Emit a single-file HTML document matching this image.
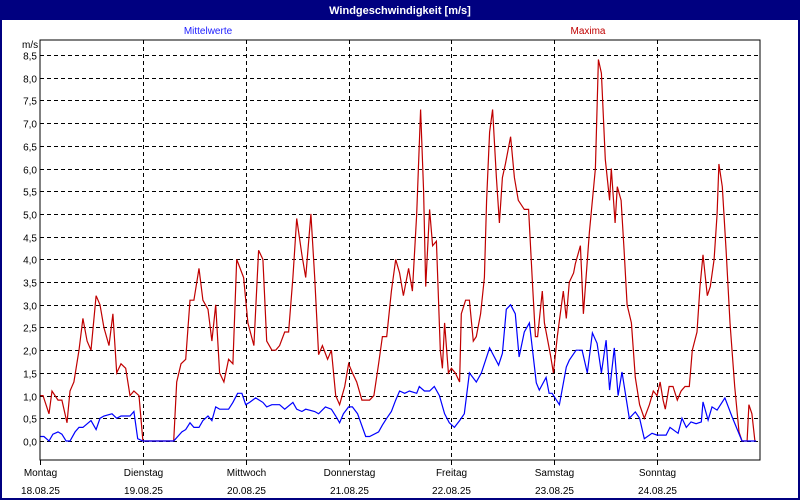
<!DOCTYPE html>
<html><head><meta charset="utf-8">
<style>
body{margin:0;background:#fff;}
svg{display:block;font-family:"Liberation Sans",sans-serif;}
</style></head>
<body>
<svg id="chart" width="800" height="500" xmlns="http://www.w3.org/2000/svg">
<rect x="0" y="0" width="800" height="500" fill="#fff"/>
<rect x="0" y="0" width="800" height="20" fill="#000080"/>
<rect x="1" y="1" width="798" height="498" fill="none" stroke="#000080" stroke-width="2"/>
<text x="400" y="14" fill="#fff" font-size="11" font-weight="bold" text-anchor="middle">Windgeschwindigkeit [m/s]</text>
<text x="208" y="34" fill="#2020ff" font-size="10" text-anchor="middle">Mittelwerte</text>
<text x="588" y="34" fill="#c00000" font-size="10" text-anchor="middle">Maxima</text>
<text x="22" y="48" fill="#000" font-size="10">m/s</text>
<g id="grid"></g>
<g id="series"></g>
<rect x="40" y="40" width="720" height="420" fill="none" stroke="#000" stroke-width="1"/>
<g id="labels"></g>
</svg>
<script>
const dayNames = ["Montag","Dienstag","Mittwoch","Donnerstag","Freitag","Samstag","Sonntag"];
const dayDates = ["18.08.25","19.08.25","20.08.25","21.08.25","22.08.25","23.08.25","24.08.25"];
const yTicks = [0,0.5,1,1.5,2,2.5,3,3.5,4,4.5,5,5.5,6,6.5,7,7.5,8,8.5];
const maxHours = [0,0.7,2.1,2.8,4.2,5.1,6.3,7.0,7.9,9.1,10.0,11.0,11.9,13.1,14.0,14.9,16.1,17.0,17.9,18.9,20.0,21.0,21.9,23.1,24.0,31.2,31.9,32.9,34.0,35.0,35.9,37.1,38.0,39.2,40.1,41.0,41.9,42.9,44.0,45.0,45.9,47.5,48.5,49.9,51.0,52.0,52.9,54.1,55.0,55.9,57.1,58.0,59.0,59.9,61.1,62.0,63.2,64.1,65.0,65.9,67.1,68.0,69.0,69.9,71.1,72.0,72.9,73.9,75.1,76.9,77.9,79.0,79.9,80.9,82.0,83.0,83.9,84.8,86.0,86.9,87.9,88.8,89.5,90.0,90.9,91.6,92.5,93.4,93.9,94.4,95.3,96.0,96.9,97.9,98.3,99.3,100.2,101.1,101.8,102.8,103.7,104.2,104.9,105.6,106.5,107.2,107.9,108.6,109.8,110.7,111.6,113.0,114.0,114.9,115.6,116.1,117.2,117.7,119.1,119.8,120.7,122.1,122.8,123.5,124.5,124.9,126.1,126.8,128.2,129.6,130.3,131.0,131.9,132.9,133.3,134.2,134.7,135.6,136.3,137.0,138.0,138.9,139.9,141.0,142.2,143.1,144.0,144.7,145.4,145.9,146.8,147.7,148.7,149.6,150.5,151.5,152.2,153.3,154.0,154.7,155.7,156.4,157.3,158.0,158.4,159.2,160.1,161.0,162.1,163.1,163.8,165.0,165.4,166.1,166.8];
const maxValues = [1.0,1.0,0.6,1.1,0.9,0.9,0.4,1.1,1.3,2.0,2.7,2.2,2.0,3.2,3.0,2.5,2.1,2.8,1.5,1.7,1.6,1.0,1.1,1.0,0,0,1.3,1.7,1.8,3.1,3.1,3.8,3.1,2.9,2.2,3.0,1.5,1.3,1.8,1.7,4.0,3.6,2.6,2.1,4.2,4.0,2.2,2.0,2.0,2.1,2.4,2.4,3.6,4.9,4.1,3.6,5.0,3.6,1.9,2.1,1.8,2.0,1.0,0.8,1.2,1.7,1.5,1.3,0.9,0.9,1.0,1.7,2.3,2.3,3.3,4.0,3.7,3.2,3.8,3.3,5.0,7.3,5.5,3.4,5.1,4.3,4.4,2.0,1.6,2.6,1.5,1.6,1.5,1.3,2.8,3.1,3.1,2.2,2.3,2.8,3.6,5.3,6.8,7.3,5.8,4.8,5.8,6.1,6.7,5.8,5.3,5.1,5.1,3.5,2.3,2.3,3.3,2.6,1.9,1.5,2.3,3.3,2.7,3.5,3.7,3.9,4.3,2.8,4.6,6.0,8.4,8.1,6.2,5.3,6.0,4.8,5.6,5.3,4.2,3.0,2.6,1.4,0.8,0.5,0.8,1.1,1.0,1.3,0.9,0.7,1.2,1.2,0.9,1.1,1.2,1.2,2.0,2.4,3.4,4.1,3.2,3.4,4.0,5.0,6.1,5.6,4.2,2.6,1.2,0.2,0,0,0.8,0.6,0];
const meanHours = [0,0.9,2.1,3.0,4.2,5.1,6.1,7.0,8.2,9.1,10.0,11.9,13.1,14.0,14.9,16.8,17.9,18.9,20.0,21.0,21.9,22.8,24.0,31.2,33.1,34.0,35.0,35.9,37.1,38.0,39.2,40.1,41.0,41.9,44.0,45.0,46.1,47.1,48.0,48.9,50.3,52.0,52.9,54.1,55.9,57.1,59.0,59.9,61.1,62.0,64.1,65.0,66.6,68.0,69.0,69.9,70.8,72.0,72.9,74.1,76.0,76.9,79.0,79.9,80.9,82.0,83.0,83.9,85.1,86.2,87.9,88.5,89.7,90.9,92.0,93.2,94.4,95.5,96.7,97.9,99.0,100.2,101.8,103.0,104.9,107.0,107.9,108.8,109.8,110.9,111.8,113.0,114.2,115.8,116.5,118.1,118.8,119.5,121.2,122.8,123.5,125.1,126.5,127.7,128.9,130.0,131.0,132.1,132.9,134.0,134.9,135.8,137.5,138.9,139.9,141.0,142.8,144.0,146.1,147.0,148.9,149.8,150.8,151.9,153.1,154.3,154.7,155.9,156.8,158.0,159.8,161.5,163.8,167.1];
const meanValues = [0.1,0.1,0.0,0.15,0.2,0.15,0.0,0.0,0.2,0.3,0.3,0.45,0.25,0.5,0.55,0.6,0.5,0.55,0.55,0.55,0.65,0.05,0,0,0.2,0.25,0.4,0.3,0.3,0.45,0.55,0.45,0.75,0.7,0.7,0.85,1.05,1.05,0.8,0.85,0.95,0.85,0.75,0.8,0.8,0.7,0.85,0.7,0.65,0.7,0.65,0.6,0.75,0.7,0.55,0.4,0.6,0.75,0.75,0.6,0.1,0.1,0.2,0.35,0.5,0.65,0.9,1.1,1.05,1.1,1.05,1.2,1.1,1.1,1.2,1.0,0.6,0.4,0.3,0.45,0.6,1.5,1.3,1.5,2.05,1.67,1.93,2.9,3.0,2.8,1.85,2.4,2.6,1.28,1.12,1.4,1.05,1.05,0.8,1.63,1.78,2.0,2.0,1.5,2.38,2.15,1.5,2.22,1.12,2.05,1.0,1.52,0.5,0.64,0.5,0.05,0.17,0.13,0.13,0.3,0.17,0.5,0.3,0.42,0.38,0.42,0.86,0.46,0.75,0.68,0.95,0.53,0,0];

const NS="http://www.w3.org/2000/svg";
const xScale = h => 40 + h*(720/168);
const yScale = v => 441 - v*(386/8.5);
const grid=document.getElementById('grid'), ser=document.getElementById('series'), lab=document.getElementById('labels');
function mk(tag, attrs, parent){const e=document.createElementNS(NS,tag);for(const k in attrs)e.setAttribute(k,attrs[k]);parent.appendChild(e);return e;}

yTicks.forEach(t=>{
  const y=Math.round(yScale(t))+0.5;
  const l=mk('line',{x1:40,x2:760,y1:y,y2:y,stroke:'#000','stroke-dasharray':'4,3'},grid);
  
  
  const tx=mk('text',{x:37,y:y+4,'font-size':10,'text-anchor':'end',fill:'#000'},lab);
  tx.textContent=t.toFixed(1).replace('.',',');
  
  
});
dayNames.forEach((d,i)=>{
  const x=Math.round(xScale(i*24))+0.5;
  if(i>0){
    const l=mk('line',{x1:x,x2:x,y1:40,y2:460,stroke:'#000','stroke-dasharray':'4,3'},grid);
    
    
  }
  const tk=mk('line',{x1:x,x2:x,y1:460,y2:465,stroke:'#000'},lab);
  
  
  const t1=mk('text',{x:x,y:476,'font-size':10,'text-anchor':'middle',fill:'#000'},lab);
  t1.textContent=d;
  
  
  const t2=mk('text',{x:x,y:494,'font-size':10,'text-anchor':'middle',fill:'#000'},lab);
  t2.textContent=dayDates[i];
  
  
});
function line(hs,vs,color,name){
  const pts=hs.map((h,i)=>xScale(h).toFixed(1)+','+yScale(vs[i]).toFixed(1)).join(' ');
  const p=mk('polyline',{points:pts,fill:'none',stroke:color,'stroke-width':1.2,'stroke-linejoin':'miter'},ser);
  
  
}
line(maxHours,maxValues,'#c00000','maxima-line');
line(meanHours,meanValues,'#0000ff','mittelwerte-line');
</script>
</body></html>
